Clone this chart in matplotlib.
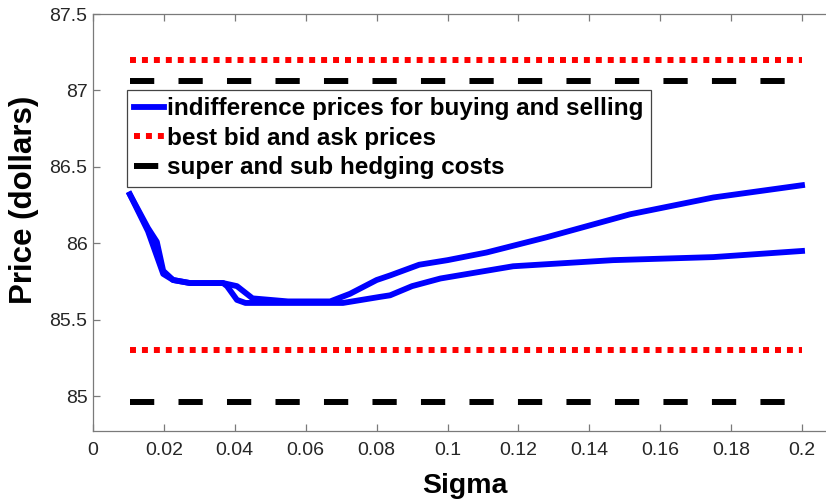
import matplotlib
matplotlib.use("Agg")
import matplotlib.pyplot as plt
import numpy as np

# indifference prices, upper (selling) and lower (buying) curve
sigma_sell = [0.0104, 0.0155, 0.018, 0.0198, 0.0226, 0.0274, 0.0367, 0.0406, 0.045,
              0.055, 0.0669, 0.0725, 0.080, 0.0838, 0.092, 0.1, 0.111, 0.128,
              0.1515, 0.175, 0.2]
price_sell = [86.32, 86.10, 86.01, 85.82, 85.76, 85.74, 85.74, 85.72, 85.64,
              85.62, 85.62, 85.67, 85.76, 85.79, 85.86, 85.89, 85.94, 86.04,
              86.19, 86.30, 86.38]
sigma_buy = [0.0104, 0.0155, 0.0198, 0.0226, 0.0274, 0.0367, 0.0378, 0.0406, 0.043,
             0.055, 0.0705, 0.081, 0.0838, 0.09, 0.098, 0.1185, 0.1467,
             0.175, 0.2]
price_buy = [86.32, 86.08, 85.80, 85.76, 85.74, 85.74, 85.72, 85.63, 85.61,
             85.61, 85.61, 85.65, 85.66, 85.72, 85.77, 85.85, 85.89,
             85.91, 85.95]

sigma_range = [0.0103, 0.2]
bid_ask = [87.2, 85.3]
hedge_costs = [87.065, 84.96]

xticks = [0, 0.02, 0.04, 0.06, 0.08, 0.1, 0.12, 0.14, 0.16, 0.18, 0.2]
xticklabels = ["0", "0.02", "0.04", "0.06", "0.08", "0.1", "0.12", "0.14", "0.16", "0.18", "0.2"]
yticks = [85, 85.5, 86, 86.5, 87, 87.5]
yticklabels = ["85", "85.5", "86", "86.5", "87", "87.5"]

plt.rcParams["font.family"] = ["Liberation Sans", "DejaVu Sans"]

fig = plt.figure(figsize=(8.26, 5.01), dpi=100)
# axes run a little past 0.2, the right edge is cut off by the figure
ax = fig.add_axes([0.1126, 0.139, 0.9013, 0.833])

blue = "#0000ff"
l1, = ax.plot(sigma_sell, price_sell, color=blue, lw=4.2, solid_joinstyle="round")
ax.plot(sigma_buy, price_buy, color=blue, lw=4.2, solid_joinstyle="round")

l2 = None
for p in bid_ask:
    l2, = ax.plot(sigma_range, [p, p], color="#ff0000", lw=4.3,
                  linestyle=(0, (1, 1)), dash_capstyle="butt")
l3 = None
for p in hedge_costs:
    l3, = ax.plot(sigma_range, [p, p], color="black", lw=4.3,
                  linestyle=(0, (4.06, 4.06)), dash_capstyle="butt")

ax.set_xlim(0, 0.21)
ax.set_ylim(84.77, 87.5)
ax.set_xticks(xticks)
ax.set_xticklabels(xticklabels)
ax.set_yticks(yticks)
ax.set_yticklabels(yticklabels)

spine_col = "#7a7a7a"
for s in ax.spines.values():
    s.set_color(spine_col)
    s.set_linewidth(0.9)
ax.tick_params(direction="in", length=5, width=0.9, color=spine_col,
               labelsize=14, labelcolor="#262626", top=True, right=True)
ax.tick_params(axis="x", pad=8)
ax.tick_params(axis="y", pad=4)

ax.set_xlabel("Sigma", fontsize=20.5, fontweight="bold", labelpad=10)
ax.set_ylabel("Price (dollars)", fontsize=22.5, fontweight="bold")
ax.yaxis.set_label_coords(-0.073, 0.554)

leg = ax.legend([l1, l2, l3],
                ["indifference prices for buying and selling",
                 "best bid and ask prices",
                 "super and sub hedging costs"],
                loc="upper left", bbox_to_anchor=(0.0455, 0.818),
                prop={"weight": "bold", "size": 17.5},
                handlelength=1.23, handletextpad=0.12, borderpad=0.3, labelspacing=0.27,
                borderaxespad=0, fancybox=False, framealpha=1)
leg.get_frame().set_edgecolor("#444444")
leg.get_frame().set_linewidth(0.9)

fig.savefig("out.png", dpi=100)
